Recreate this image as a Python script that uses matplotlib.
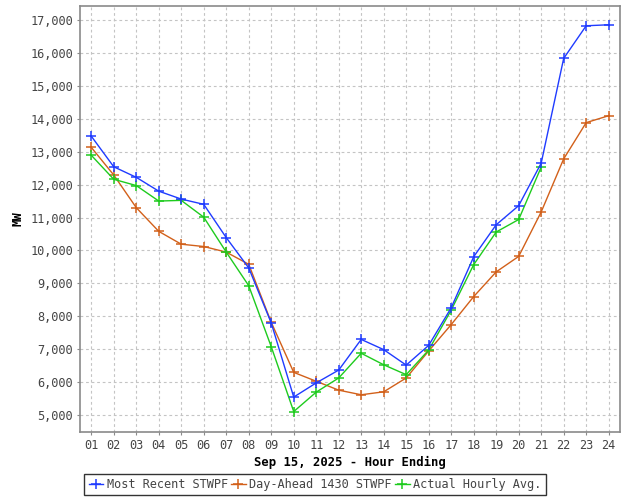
import matplotlib
matplotlib.use('Agg')
import matplotlib.pyplot as plt
from matplotlib.ticker import FuncFormatter, MultipleLocator

# ── data (MW by hour ending) ──────────────────────────────
hours = list(range(1, 25))
hour_labels = [f"{h:02d}" for h in hours]

most_recent = [13470, 12540, 12220, 11800, 11560, 11400, 10390, 9470,
               7800, 5550, 5980, 6370, 7300, 6990, 6520, 7120,
               8260, 9810, 10780, 11360, 12650, 15830, 16820, 16850]
day_ahead = [13130, 12290, 11300, 10580, 10190, 10120, 9950, 9580,
             7820, 6300, 6030, 5760, 5620, 5710, 6130, 6950,
             7750, 8600, 9350, 9820, 11170, 12780, 13880, 14090]
actual_hours = hours[:21]
actual = [12890, 12160, 11970, 11500, 11520, 11010, 9950, 8930,
          7080, 5110, 5700, 6130, 6880, 6530, 6230, 6980,
          8190, 9570, 10560, 10940, 12530]

MONO = 'DejaVu Sans Mono'

fig = plt.figure(figsize=(6.3, 5.0), dpi=100)
ax = fig.add_axes([0.127, 0.136, 0.857, 0.852])

ax.plot(hours, most_recent, '-', color='#1f3bff', lw=1.0, marker='+',
        ms=7, mew=1.1, label='Most Recent STWPF', zorder=3)
ax.plot(hours, day_ahead, '-', color='#d2601a', lw=1.0, marker='+',
        ms=7, mew=1.1, label='Day-Ahead 1430 STWPF', zorder=2)
ax.plot(actual_hours, actual, '-', color='#1ecb1e', lw=1.0, marker='+',
        ms=7, mew=1.1, label='Actual Hourly Avg.', zorder=2)

ax.set_xlim(0.5, 24.5)
ax.set_ylim(4490, 17420)
ax.set_xticks(hours)
ax.set_xticklabels(hour_labels)
ax.yaxis.set_major_locator(MultipleLocator(1000))
ax.yaxis.set_major_formatter(FuncFormatter(lambda v, p: f"{int(v):,}"))

ax.grid(True, color='#c4c4c4', linestyle=(0, (2.5, 2.5)), linewidth=0.8)
ax.set_axisbelow(True)
for s in ax.spines.values():
    s.set_color('#8a8a8a')
    s.set_linewidth(1.2)

ax.tick_params(axis='both', length=2, color='#8a8a8a', labelcolor='#444444',
               labelsize=8.6, pad=3)
for lbl in ax.get_xticklabels() + ax.get_yticklabels():
    lbl.set_family(MONO)

ax.set_xlabel("Sep 15, 2025 - Hour Ending", family=MONO, fontweight='bold',
              fontsize=8.8, labelpad=3)
ax.set_ylabel("MW", family=MONO, fontweight='bold', fontsize=8.8)
ax.yaxis.set_label_coords(-0.103, 0.5)

leg = fig.legend(loc='lower center', bbox_to_anchor=(0.5, 0.002), ncol=3,
                 prop={'family': MONO, 'size': 8.6}, frameon=True,
                 fancybox=False, edgecolor='black', handlelength=1.2,
                 handletextpad=0.3, columnspacing=0.3, borderpad=0.35,
                 borderaxespad=0.3)
leg.get_frame().set_linewidth(1.0)
for t in leg.get_texts():
    t.set_color('#444444')

plt.savefig('out.png', dpi=100)
plt.close()
